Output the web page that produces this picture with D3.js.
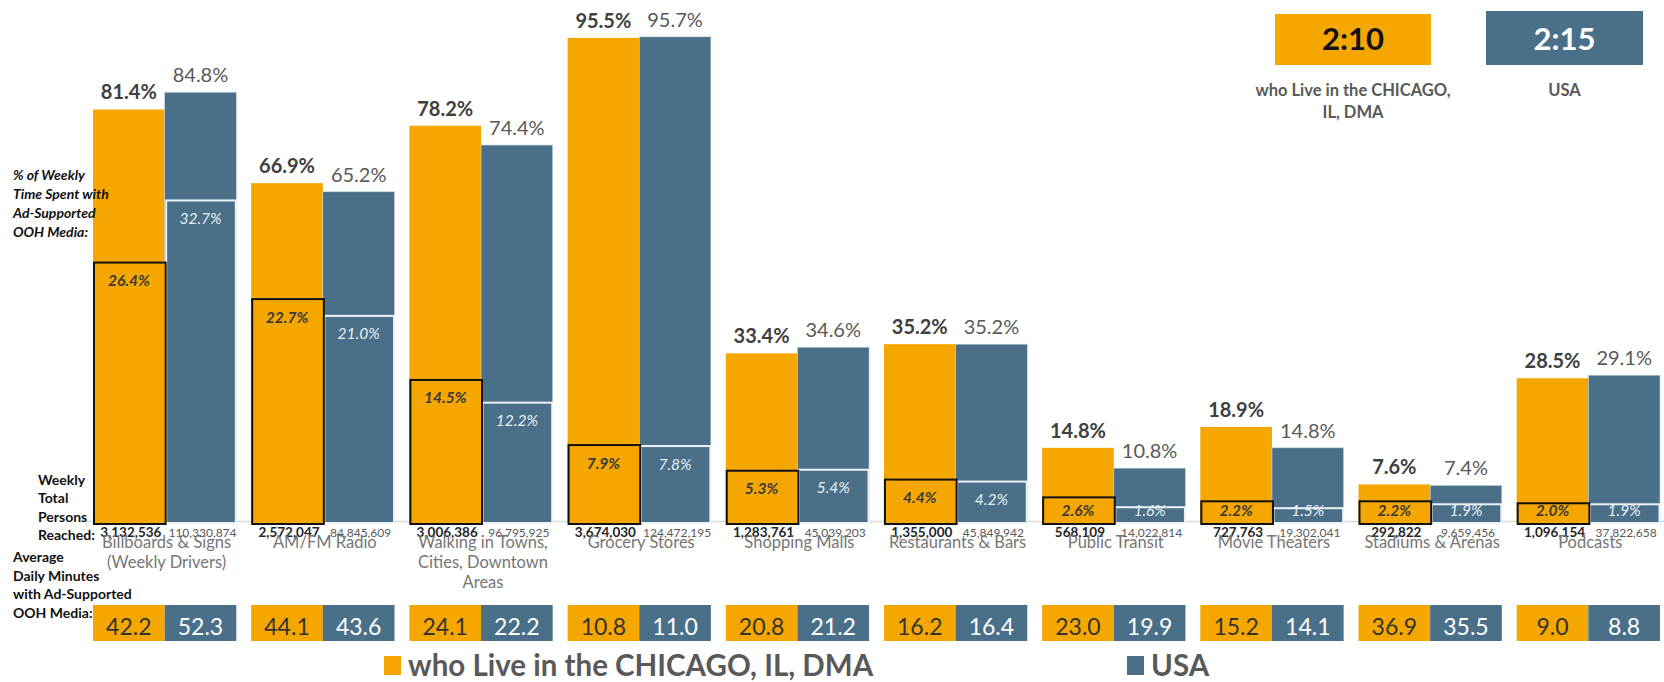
<!DOCTYPE html>
<html>
<head>
<meta charset="utf-8">
<script src="https://cdn.jsdelivr.net/npm/d3@7"></script>
<style>
  html, body { margin: 0; padding: 0; background: #fff; }
  svg { display: block; font-family: Lato, "Open Sans", sans-serif; }
</style>
</head>
<body>
<svg id="chart" width="1664" height="682"></svg>
<script>
// Out-of-home media reach: Chicago DMA vs. USA
const categories = [
  "Billboards & Signs\n(Weekly Drivers)",
  "AM/FM Radio",
  "Walking in Towns,\nCities, Downtown\nAreas",
  "Grocery Stores",
  "Shopping Malls",
  "Restaurants & Bars",
  "Public Transit",
  "Movie Theaters",
  "Stadiums & Arenas",
  "Podcasts"
];
const seriesNames = ["who Live in the CHICAGO, IL, DMA", "USA"];

// weekly reach, %
const reachDMA = [81.4, 66.9, 78.2, 95.5, 33.4, 35.2, 14.8, 18.9, 7.6, 28.5];
const reachUSA = [84.8, 65.2, 74.4, 95.7, 34.6, 35.2, 10.8, 14.8, 7.4, 29.1];

// % of weekly time spent with ad-supported OOH media
const shareDMA = [26.4, 22.7, 14.5, 7.9, 5.3, 4.4, 2.6, 2.2, 2.2, 2.0];
const shareUSA = [32.7, 21.0, 12.2, 7.8, 5.4, 4.2, 1.6, 1.5, 1.9, 1.9];

// weekly total persons reached
const personsDMA = [3132536, 2572047, 3006386, 3674030, 1283761, 1355000, 568109, 727763, 292822, 1096154];
const personsUSA = [110330874, 84845609, 96795925, 124472195, 45039203, 45849942, 14022814, 19302041, 9659456, 37822658];

// average daily minutes
const minutesDMA = [42.2, 44.1, 24.1, 10.8, 20.8, 16.2, 23.0, 15.2, 36.9, 9.0];
const minutesUSA = [52.3, 43.6, 22.2, 11.0, 21.2, 16.4, 19.9, 14.1, 35.5, 8.8];

// total daily time
const totalTime = ["2:10", "2:15"];

const ORANGE = "#F5A700";
const BLUE = "#4A7089";

const svg = d3.select("#chart");
const baseY = 523;

const x = d3.scaleBand().domain(categories).range([93, 1660]).paddingInner(0.094).paddingOuter(0);
const xs = d3.scaleBand().domain([0, 1]).range([0, x.bandwidth()]);
const yReach = d3.scaleLinear().domain([0, 100]).range([baseY, 15]);
const yShare = d3.scaleLinear().domain([0, 51.5]).range([baseY, 15]);
const bw = xs.bandwidth();
const fmt = d3.format(",");
const fmtPct = d3.format(".1f");

const rows = categories.map((c, i) => ({
  c,
  reach: [reachDMA[i], reachUSA[i]],
  share: [shareDMA[i], shareUSA[i]],
  persons: [personsDMA[i], personsUSA[i]],
  minutes: [minutesDMA[i], minutesUSA[i]]
}));

// baseline
svg.append("line")
  .attr("x1", 86).attr("x2", 1664)
  .attr("y1", baseY - 1.5).attr("y2", baseY - 1.5)
  .attr("stroke", "#d9d9d9").attr("stroke-width", 1.5);

const g = svg.selectAll("g.grp").data(rows).join("g")
  .attr("class", "grp")
  .attr("transform", d => `translate(${x(d.c)},0)`);

// reach bars
g.selectAll("rect.reach").data(d => d.reach.map((v, s) => ({ v, s }))).join("rect")
  .attr("class", "reach")
  .attr("x", d => xs(d.s))
  .attr("width", bw)
  .attr("y", d => yReach(d.v))
  .attr("height", d => baseY - yReach(d.v))
  .attr("fill", d => d.s === 0 ? ORANGE : BLUE)
  .attr("stroke", d => d.s === 0 ? "none" : "#c9d6df")
  .attr("stroke-width", 0.6);

// time-share boxes, USA first so the Chicago outline sits on top
g.append("rect")
  .attr("x", d => xs(1) + 1.5)
  .attr("width", bw - 2)
  .attr("y", d => yShare(d.share[1]))
  .attr("height", d => baseY - yShare(d.share[1]))
  .attr("fill", BLUE)
  .attr("stroke", "#eef3f6")
  .attr("stroke-width", 2);

g.append("rect")
  .attr("x", d => xs(0) + 1)
  .attr("width", bw)
  .attr("y", d => yShare(d.share[0]))
  .attr("height", d => baseY + 1 - yShare(d.share[0]))
  .attr("fill", ORANGE)
  .attr("stroke", "#111")
  .attr("stroke-width", 2);

// time-share labels
g.selectAll("text.share").data(d => d.share.map((v, s) => ({ v, s }))).join("text")
  .attr("class", "share")
  .attr("x", d => xs(d.s) + bw / 2)
  .attr("y", d => Math.min(yShare(d.v) + 18, baseY - 13) + 5.5)
  .attr("text-anchor", "middle")
  .attr("font-style", "italic")
  .attr("font-size", 15.5)
  .attr("font-weight", d => d.s === 0 ? 700 : 400)
  .attr("fill", d => d.s === 0 ? "#3a3a3a" : "#e8eff4")
  .text(d => fmtPct(d.v) + "%");

// reach labels
g.selectAll("text.reachLbl").data(d => d.reach.map((v, s) => ({ v, s }))).join("text")
  .attr("class", "reachLbl")
  .attr("x", d => xs(d.s) + bw / 2)
  .attr("y", d => yReach(d.v) - 10)
  .attr("text-anchor", "middle")
  .attr("font-size", 20)
  .attr("font-weight", d => d.s === 0 ? 700 : 400)
  .attr("fill", d => d.s === 0 ? "#404040" : "#595959")
  .text(d => fmtPct(d.v) + "%");

// persons reached
g.selectAll("text.persons").data(d => d.persons.map((v, s) => ({ v, s }))).join("text")
  .attr("class", "persons")
  .attr("x", d => xs(d.s) + bw / 2 + 2)
  .attr("y", 537)
  .attr("text-anchor", "middle")
  .attr("font-size", d => d.s === 0 ? 13.5 : 12)
  .attr("font-weight", d => d.s === 0 ? 700 : 400)
  .attr("fill", d => d.s === 0 ? "#262626" : "#595959")
  .text(d => fmt(d.v));

// category names
g.each(function (d) {
  const lines = d.c.split("\n");
  d3.select(this).selectAll("text.cat").data(lines).join("text")
    .attr("class", "cat")
    .attr("x", x.bandwidth() / 2 + 2)
    .attr("y", (l, i) => 548 + i * 20)
    .attr("text-anchor", "middle")
    .attr("font-size", 16.5)
    .attr("fill", "#767676")
    .text(l => l);
});

// daily minutes boxes
g.selectAll("rect.min").data(d => d.minutes.map((v, s) => ({ v, s }))).join("rect")
  .attr("class", "min")
  .attr("x", d => xs(d.s))
  .attr("width", bw)
  .attr("y", 605)
  .attr("height", 36)
  .attr("fill", d => d.s === 0 ? ORANGE : BLUE);

g.selectAll("text.min").data(d => d.minutes.map((v, s) => ({ v, s }))).join("text")
  .attr("class", "min")
  .attr("x", d => xs(d.s) + bw / 2)
  .attr("y", 635)
  .attr("text-anchor", "middle")
  .attr("font-size", 23)
  .attr("fill", d => d.s === 0 ? "#333" : "#fff")
  .text(d => fmtPct(d.v));

// row captions on the left
function caption(lines, x0, y0, step, italic, size) {
  svg.append("g").selectAll("text").data(lines).join("text")
    .attr("x", x0)
    .attr("y", (l, i) => y0 + i * step)
    .attr("font-size", size)
    .attr("font-weight", 700)
    .attr("font-style", italic ? "italic" : "normal")
    .attr("fill", "#111")
    .text(l => l);
}
caption(["% of Weekly", "Time Spent with", "Ad-Supported", "OOH Media:"], 13, 180, 19, true, 14);
caption(["Weekly", "Total", "Persons", "Reached:"], 38, 485, 18.3, false, 14);
caption(["Average", "Daily Minutes", "with Ad-Supported", "OOH Media:"], 13, 562, 18.7, false, 14);

// total daily time boxes, top right
const totals = [
  { t: totalTime[0], x: 1275, y: 14, w: 156, h: 51, fill: ORANGE, color: "#111", cap: ["who Live in the CHICAGO,", "IL, DMA"] },
  { t: totalTime[1], x: 1486, y: 11, w: 157, h: 54, fill: BLUE, color: "#fff", cap: ["USA"] }
];
const tg = svg.selectAll("g.total").data(totals).join("g").attr("class", "total");
tg.append("rect")
  .attr("x", d => d.x).attr("y", d => d.y)
  .attr("width", d => d.w).attr("height", d => d.h)
  .attr("fill", d => d.fill);
tg.append("text")
  .attr("x", d => d.x + d.w / 2).attr("y", 50)
  .attr("text-anchor", "middle")
  .attr("font-size", 31).attr("font-weight", 700)
  .attr("fill", d => d.color)
  .text(d => d.t);
tg.each(function (d) {
  d3.select(this).selectAll("text.cap").data(d.cap).join("text")
    .attr("class", "cap")
    .attr("x", d.x + d.w / 2)
    .attr("y", (l, i) => 96 + i * 22)
    .attr("text-anchor", "middle")
    .attr("font-size", 16.5).attr("font-weight", 700)
    .attr("fill", "#595959")
    .text(l => l);
});

// legend
const legendItems = [
  { name: seriesNames[0], fill: ORANGE, x: 384 },
  { name: seriesNames[1], fill: BLUE, x: 1127 }
];
const lg = svg.selectAll("g.legend").data(legendItems).join("g").attr("class", "legend");
lg.append("rect")
  .attr("x", d => d.x).attr("y", 656)
  .attr("width", 17).attr("height", 19)
  .attr("fill", d => d.fill);
lg.append("text")
  .attr("x", d => d.x + 24).attr("y", 676)
  .attr("font-size", 29.5).attr("font-weight", 700)
  .attr("fill", "#595959")
  .text(d => d.name);
</script>
</body>
</html>
